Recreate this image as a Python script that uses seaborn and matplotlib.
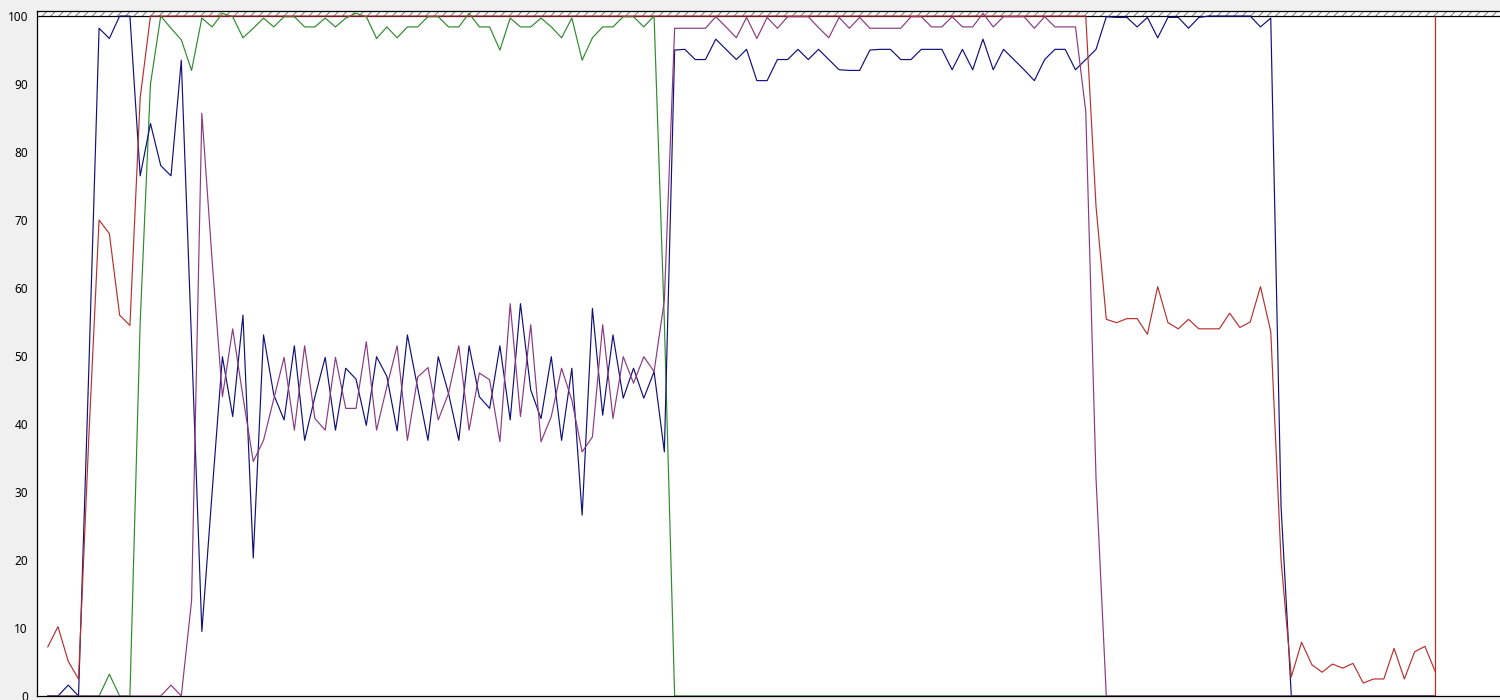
import matplotlib
matplotlib.use("Agg")
import numpy as np
import pandas as pd
import matplotlib.pyplot as plt
import seaborn as sns

# perfmon-style counter history, one value per sample (0..135)
red_vals = [7.2, 10.2, 5.1, 2.5, 38, 70, 68, 56, 54.5, 88] + [100] * 92 + [
    72, 55.4, 54.9, 55.5, 55.5, 53.2, 60.2, 54.9, 54.0, 55.4,
    54.0, 54.0, 54.0, 56.3, 54.2, 55.0, 60.2, 53.6, 20, 2.8,
    7.9, 4.6, 3.5, 4.7, 4.1, 4.8, 1.9, 2.5, 2.5, 7.0,
    2.5, 6.5, 7.3, 3.6]

green_vals = [0, 0, 0, 0, 0, 0, 3.2, 0, 0, 55,
              90, 100, 98.2, 96.5, 92, 99.7, 98.4, 100.4, 99.9, 96.8,
              98.2, 99.7, 98.4, 99.9, 99.9, 98.4, 98.4, 99.7, 98.4, 99.7,
              100.4, 99.9, 96.7, 98.4, 96.8, 98.4, 98.4, 99.9, 99.9, 98.4,
              98.4, 100.4, 98.4, 98.4, 95.0, 99.7, 98.4, 98.4, 99.7, 98.4,
              96.8, 99.7, 93.5, 96.8, 98.4, 98.4, 99.9, 99.9, 98.4, 100,
              55] + [0] * 75

navy_vals = [0, 0, 1.6, 0, 48, 98.2, 96.7, 100, 100, 76.5,
             84.2, 78, 76.5, 93.5, 52, 9.5, 30, 49.9, 41.1, 56,
             20.3, 53.1, 44.3, 40.6, 51.5, 37.6, 44, 49.8, 39.1, 48.2,
             46.6, 39.8, 49.9, 47, 39, 53.1, 45.3, 37.6, 49.9, 44.5,
             37.6, 51.5, 44, 42.3, 51.5, 40.6, 57.7, 45, 40.8, 49.9,
             37.6, 48.2, 26.6, 57.0, 41.3, 53.1, 43.8, 48.2, 43.8, 47.7,
             35.9, 95, 95.1, 93.6, 93.6, 96.6, 95.1, 93.6, 95.1, 90.5,
             90.5, 93.6, 93.6, 95.1, 93.6, 95.1, 93.6, 92.1, 92, 92,
             95, 95.1, 95.1, 93.6, 93.6, 95.1, 95.1, 95.1, 92.1, 95.1,
             92.1, 96.6, 92.1, 95.1, 93.6, 92.1, 90.5, 93.6, 95.1, 95.1,
             92.1, 93.6, 95.1, 99.9, 99.8, 99.8, 98.4, 99.8, 96.8, 99.8,
             99.8, 98.2, 99.8, 100, 100, 100, 100, 100, 98.4, 99.7,
             28] + [0] * 15

purple_vals = [0] * 12 + [1.6, 0, 14, 85.7, 64, 44, 54, 44,
               34.5, 37.6, 43.7, 49.8, 39.1, 51.5, 40.8, 39.1, 49.8, 42.3,
               42.3, 52.1, 39.1, 45.5, 51.5, 37.6, 46.9, 48.3, 40.6, 44.5,
               51.5, 39.1, 47.5, 46.5, 37.4, 57.7, 41.1, 54.6, 37.4, 41.1,
               48.2, 43.5, 35.9, 38.1, 54.6, 40.8, 49.9, 46, 49.9, 47.7,
               58.2, 98.2, 98.2, 98.2, 98.2, 99.9, 98.4, 96.8, 99.8, 96.7,
               99.8, 98.2, 99.9, 99.9, 99.9, 98.3, 96.8, 99.8, 98.2, 99.8,
               98.2, 98.2, 98.2, 98.2, 99.9, 99.9, 98.4, 98.4, 99.9, 98.4,
               98.4, 100.4, 98.4, 99.9, 99.9, 99.9, 98.2, 99.9, 98.4, 98.4,
               98.4, 86, 32] + [0] * 33

now_index = 135          # red time-bar position
tick_samples = [3.1, 13.1, 23.1, 33.1, 43.1, 53.1, 63.1, 73.1, 83.1,
                93.1, 103.1, 113.1, 123.1, 133.1]
y_ticks = list(range(0, 101, 10))

sns.set_style("white")
plt.rcParams['font.family'] = ['Noto Sans', 'DejaVu Sans']
plt.rcParams['hatch.linewidth'] = 0.6

fig = plt.figure(figsize=(15, 7), dpi=100, facecolor='#f0f0f0')
ax = fig.add_axes([37 / 1500, 4 / 700, 1465 / 1500, 685 / 700])
ax.set_facecolor('white')

top = 100.74
ax.axhspan(100, top, facecolor='white', edgecolor='#666666', hatch='////',
           linewidth=0, zorder=1)
ax.axhline(100, color='black', lw=0.9, zorder=1.5)

series = [
    (green_vals, '#2f8a2f'),
    (navy_vals, '#10107a'),
    (purple_vals, '#8a3a80'),
    (red_vals, '#b83030'),
]
for z, (vals, col) in enumerate(series):
    df = pd.DataFrame({'sample': np.arange(len(vals)), 'value': vals})
    sns.lineplot(data=df, x='sample', y='value', color=col, linewidth=0.85,
                 sort=False, ax=ax, zorder=2 + z)

ax.axvline(now_index, color='#cc2222', lw=0.85, ymax=100 / top, zorder=7)

ax.set_xlim(-1.04, 141.5)
ax.set_ylim(0, top)
ax.set_xticks(tick_samples)
ax.set_yticks(y_ticks)
ax.set_yticklabels([str(t) for t in y_ticks])
ax.set_xlabel('')
ax.set_ylabel('')
ax.tick_params(axis='y', direction='out', length=5, width=0.8, pad=1.5,
               labelsize=8.5, colors='black')
ax.tick_params(axis='x', direction='out', length=5, width=0.8,
               labelbottom=False, colors='black')
for side in ['left', 'bottom', 'top']:
    ax.spines[side].set_color('black')
    ax.spines[side].set_linewidth(0.9)
ax.spines['right'].set_visible(False)

fig.savefig('out.png', dpi=100, facecolor=fig.get_facecolor())
